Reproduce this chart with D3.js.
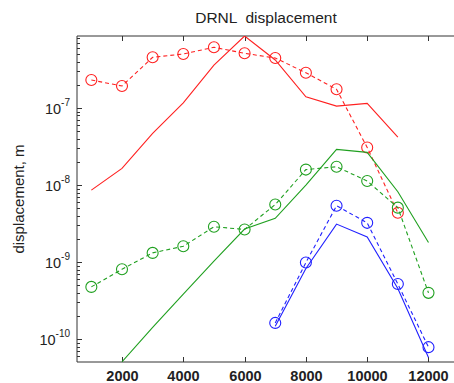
<!DOCTYPE html>
<html><head><meta charset="utf-8">
<script src="https://cdn.jsdelivr.net/npm/d3@7"></script>
<style>body{margin:0;background:#fff}svg{display:block}</style>
</head><body>
<script>
const xTicks = [2000, 4000, 6000, 8000, 10000, 12000];
const yTicks = [1e-10, 1e-9, 1e-8, 1e-7];
const yTickExp = ["-10", "-9", "-8", "-7"];

const redDashX = [1000,2000,3000,4000,5000,6000,7000,8000,9000,10000,11000];
const redDashY = [2.31e-7,1.93e-7,4.55e-7,5.02e-7,6.14e-7,5.13e-7,4.45e-7,2.87e-7,1.75e-7,3.08e-8,4.37e-9];
const redSolidX = [1000,2000,3000,4000,5000,6000,7000,8000,9000,10000,11000];
const redSolidY = [8.6e-9,1.65e-8,4.7e-8,1.17e-7,3.6e-7,8.6e-7,4.2e-7,1.40e-7,1.06e-7,1.15e-7,4.2e-8];

const greenDashX = [1000,2000,3000,4000,5000,6000,7000,8000,9000,10000,11000,12000];
const greenDashY = [4.78e-10,8.1e-10,1.32e-9,1.61e-9,2.88e-9,2.66e-9,5.6e-9,1.59e-8,1.73e-8,1.13e-8,5.1e-9,4.0e-10];
const greenSolidX = [2000,3000,4000,5000,6000,7000,8000,9000,10000,11000,12000];
const greenSolidY = [5.1e-11,1.43e-10,3.84e-10,1.03e-9,2.69e-9,3.7e-9,1.0e-8,2.91e-8,2.66e-8,8.2e-9,1.8e-9];

const blueDashX = [7000,8000,9000,10000,11000,12000];
const blueDashY = [1.63e-10,9.9e-10,5.4e-9,3.24e-9,5.2e-10,7.9e-11];
const blueSolidX = [7000,8000,9000,10000,11000,12000];
const blueSolidY = [1.48e-10,8.3e-10,3.12e-9,2.13e-9,4.55e-10,5.8e-11];

const W = 454, H = 383;
const L = 77, T = 36, R = 456, B = 362;
const svg = d3.select("body").append("svg").attr("width", W).attr("height", H);

const x = d3.scaleLinear().domain([532, 12900]).range([L, L + (12900-532)*0.03065]);
const y = d3.scaleLog().domain([5.07e-11, 8.6e-7]).range([B, T]);

svg.append("defs").append("clipPath").attr("id","clip")
  .append("rect").attr("x", L).attr("y", T).attr("width", R - L).attr("height", B - T);

const font = "Liberation Sans, Arial, sans-serif";
const axCol = "#333";

// title
svg.append("text").attr("x", 266).attr("y", 23).attr("text-anchor","middle")
  .attr("font-family", font).attr("font-size", 15.5).attr("fill","#222")
  .attr("xml:space","preserve").text("DRNL  displacement");

// y label
svg.append("text").attr("transform", `translate(24,${(T+B)/2}) rotate(-90)`)
  .attr("text-anchor","middle").attr("font-family", font).attr("font-size", 15).attr("fill","#222")
  .text("displacement, m");

// box
const g = svg.append("g");
g.append("line").attr("x1", L).attr("x2", R).attr("y1", T).attr("y2", T).attr("stroke", axCol);
g.append("line").attr("x1", L).attr("x2", R).attr("y1", B).attr("y2", B).attr("stroke", axCol);
g.append("line").attr("x1", L).attr("x2", L).attr("y1", T).attr("y2", B).attr("stroke", axCol);

// x ticks (inside, top and bottom)
xTicks.forEach(v => {
  const px = Math.round(x(v)) + 0.5;
  g.append("line").attr("x1", px).attr("x2", px).attr("y1", B).attr("y2", B - 5).attr("stroke", axCol);
  g.append("line").attr("x1", px).attr("x2", px).attr("y1", T).attr("y2", T + 5).attr("stroke", axCol);
  g.append("text").attr("x", px).attr("y", 380.5).attr("text-anchor", "middle")
    .attr("font-family", font).attr("font-size", 14.5).attr("font-weight","bold").attr("fill", "#222").text(d3.format("d")(v));
});

// y ticks major + minor
const minorVals = [];
for (let e = -11; e <= -7; e++) for (let m = 1; m <= 9; m++) {
  const v = m * Math.pow(10, e);
  if (v >= y.domain()[0] && v <= y.domain()[1]) minorVals.push([v, m === 1]);
}
minorVals.forEach(([v, major]) => {
  const py = Math.round(y(v)) + 0.5;
  g.append("line").attr("x1", L).attr("x2", L + (major ? 5 : 3)).attr("y1", py).attr("y2", py).attr("stroke", axCol);
});
yTicks.forEach((v, i) => {
  const py = y(v);
  const t = g.append("text").attr("x", 70).attr("y", py + 6).attr("text-anchor", "end")
    .attr("font-family", font).attr("font-size", 14.5).attr("fill", "#222");
  t.append("tspan").text("10");
  t.append("tspan").attr("font-size", 10).attr("dy", -8).text(yTickExp[i]);
});

// series
const line = d3.line().x(d => x(d[0])).y(d => y(d[1]));
const plot = svg.append("g").attr("clip-path", "url(#clip)");
function series(xs, ys, color, dashed, markers) {
  const data = xs.map((v, i) => [v, ys[i]]);
  plot.append("path").datum(data).attr("d", line).attr("fill", "none")
    .attr("stroke", color).attr("stroke-width", 1.1)
    .attr("stroke-dasharray", dashed ? "4,3" : null);
  if (markers) {
    plot.selectAll(null).data(data).enter().append("circle")
      .attr("cx", d => x(d[0])).attr("cy", d => y(d[1])).attr("r", 5.5)
      .attr("fill", "none").attr("stroke", color).attr("stroke-width", 1.1);
  }
}
const red = "#ff2020", green = "#20a020", blue = "#2020ff";
series(redSolidX, redSolidY, red, false, false);
series(redDashX, redDashY, red, true, true);
series(greenSolidX, greenSolidY, green, false, false);
series(greenDashX, greenDashY, green, true, true);
series(blueSolidX, blueSolidY, blue, false, false);
series(blueDashX, blueDashY, blue, true, true);
</script>
</body></html>
